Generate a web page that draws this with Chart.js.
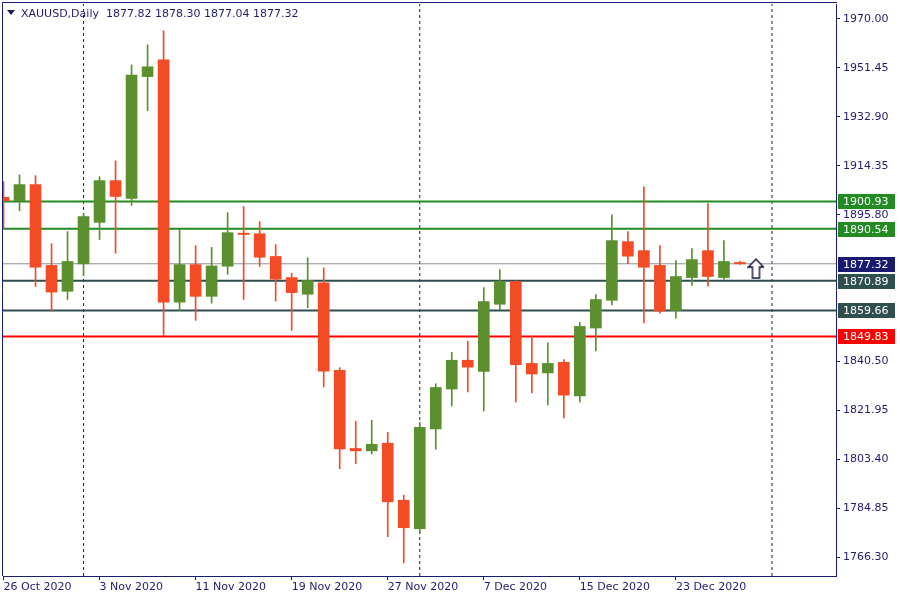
<!DOCTYPE html>
<html>
<head>
<meta charset="utf-8">
<script src="https://cdn.jsdelivr.net/npm/chart.js@4.4.1/dist/chart.umd.min.js"></script>
<style>
  html, body { margin: 0; padding: 0; background: #fff; }
  #wrap { position: relative; width: 900px; height: 600px; }
  #tri { position: absolute; left: 7px; top: 10px; width: 0; height: 0;
         border-left: 4px solid transparent; border-right: 4px solid transparent; border-top: 5px solid #1c1c5a; }
  #title { position: absolute; left: 21px; top: 7px; font: 11px "DejaVu Sans", sans-serif; line-height: 13px;
           color: #231c6b; white-space: pre; }
</style>
</head>
<body>
<div id="wrap">
  <canvas id="chart" width="900" height="600"></canvas>
  <div id="tri"></div>
  <div id="title">XAUUSD,Daily  1877.82 1878.30 1877.04 1877.32</div>
</div>
<script>
// daily candles, 26 Oct 2020 .. 30 Dec 2020 (bar index = trading day)
const opens  = [1902.5, 1901.2, 1907.3, 1876.7, 1866.9, 1877.3, 1893.0, 1908.8, 1902.1, 1948.2,
                1954.5, 1862.8, 1877.0, 1865.0, 1876.4, 1888.9, 1888.7, 1880.1, 1872.1, 1865.8,
                1870.1, 1837.0, 1807.4, 1806.5, 1809.4, 1787.8, 1777.0, 1814.8, 1829.9, 1840.8,
                1836.6, 1862.0, 1870.6, 1839.6, 1836.0, 1840.0, 1827.3, 1853.0, 1863.5, 1885.7,
                1882.3, 1876.7, 1859.6, 1872.1, 1882.3, 1872.1, 1877.82];
const highs  = [1908.4, 1911.0, 1910.7, 1884.9, 1889.5, 1896.3, 1910.3, 1916.3, 1952.6, 1960.2,
                1965.5, 1890.5, 1884.2, 1883.5, 1896.7, 1899.0, 1893.3, 1884.6, 1873.7, 1879.6,
                1875.8, 1838.0, 1817.7, 1818.1, 1813.5, 1789.7, 1817.2, 1831.9, 1843.8, 1848.0,
                1868.3, 1875.1, 1870.9, 1849.9, 1847.4, 1841.1, 1855.1, 1865.7, 1895.9, 1889.5,
                1906.5, 1884.2, 1878.5, 1883.1, 1900.1, 1886.1, 1878.30];
const lows   = [1890.5, 1897.4, 1868.7, 1859.4, 1863.8, 1872.9, 1886.5, 1881.3, 1899.4, 1935.3,
                1850.2, 1859.6, 1855.9, 1862.4, 1873.3, 1863.8, 1876.3, 1863.2, 1852.1, 1860.7,
                1830.7, 1799.7, 1801.6, 1805.3, 1774.0, 1764.1, 1775.5, 1807.1, 1823.5, 1828.8,
                1821.6, 1859.9, 1825.0, 1828.4, 1823.9, 1819.0, 1825.0, 1844.3, 1861.7, 1877.4,
                1854.9, 1858.6, 1856.7, 1869.1, 1868.8, 1871.4, 1877.04];
const closes = [1901.2, 1907.3, 1876.0, 1866.6, 1878.2, 1895.2, 1908.8, 1902.8, 1948.8, 1951.9,
                1862.8, 1877.0, 1865.0, 1876.5, 1889.1, 1888.4, 1879.8, 1871.5, 1866.4, 1871.0,
                1836.7, 1807.2, 1806.5, 1809.0, 1787.2, 1777.4, 1815.4, 1830.5, 1840.8, 1838.2,
                1863.0, 1870.6, 1839.1, 1835.6, 1839.6, 1827.6, 1853.6, 1863.8, 1886.1, 1880.2,
                1876.0, 1859.4, 1872.5, 1878.9, 1872.5, 1878.2, 1877.32];

const tickIndex  = [0, 6, 12, 18, 24, 30, 36, 42];
const tickLabels = ['26 Oct 2020', '3 Nov 2020', '11 Nov 2020', '19 Nov 2020',
                    '27 Nov 2020', '7 Dec 2020', '15 Dec 2020', '23 Dec 2020'];
const priceTicks = [1970.00, 1951.45, 1932.90, 1914.35, 1895.80, 1840.50, 1821.95, 1803.40, 1784.85, 1766.30];

const levels     = [1900.93, 1890.54, 1877.32, 1870.89, 1859.66, 1849.83];
const separators = [5, 26, 48];          // month starts
const arrowAt    = {x: 47, y: 1875.5};

// styles
const UP = '#5b8f2f', DOWN = '#f24b26', AXIS = '#1c1c72', TXT = '#231c6b';
const levelColors = ['#228b22', '#228b22', '#8a9096', '#2f4f4f', '#2f4f4f', '#ff0000'];
const levelWidths = [2, 2, 1, 2, 2, 2];
const tagColors   = ['#228b22', '#228b22', '#191970', '#2f4f4f', '#2f4f4f', '#ff0000'];

const X_MIN = -0.03125, X_MAX = 52;
const Y_MIN = 1759.12, Y_MAX = 1975.67;

const candleColor = opens.map((o, i) => closes[i] >= o ? UP : DOWN);

const wicks  = highs.map((h, i) => ({x: i, y: [lows[i], h]}));
const bodies = opens.map((o, i) => ({x: i, y: [Math.min(o, closes[i]), Math.max(o, closes[i])]}));

function makeArrow() {
  const c = document.createElement('canvas');
  c.width = 17; c.height = 21;
  const g = c.getContext('2d');
  g.beginPath();
  g.moveTo(8.5, 1); g.lineTo(16, 9); g.lineTo(12, 9); g.lineTo(12, 20);
  g.lineTo(5, 20); g.lineTo(5, 9); g.lineTo(1, 9); g.closePath();
  g.fillStyle = '#fff'; g.fill();
  g.strokeStyle = '#10103a'; g.lineWidth = 1.4; g.stroke();
  return c;
}

const lineSets = levels.map((v, i) => ({
  type: 'line',
  data: [{x: X_MIN, y: v}, {x: X_MAX, y: v}],
  borderColor: levelColors[i],
  borderWidth: levelWidths[i],
  pointRadius: 0,
  order: 5
}));

const sepSets = separators.map(s => ({
  type: 'line',
  data: [{x: s, y: Y_MIN}, {x: s, y: Y_MAX}],
  borderColor: '#1c1c5a',
  borderWidth: 1,
  borderDash: [3, 3],
  pointRadius: 0,
  order: 6
}));

// frame on top/left, and coloured price tags on the right axis
const frameAndTags = {
  id: 'frameAndTags',
  afterDraw(chart) {
    const {ctx, chartArea: a} = chart;
    const y = chart.scales.y;
    ctx.save();
    ctx.strokeStyle = AXIS;
    ctx.lineWidth = 1;
    ctx.beginPath();
    ctx.moveTo(a.left - 0.5, a.bottom);
    ctx.lineTo(a.left - 0.5, a.top - 1.5);
    ctx.lineTo(a.right + 1, a.top - 1.5);
    ctx.stroke();

    ctx.font = '11px "DejaVu Sans", sans-serif';
    ctx.textBaseline = 'middle';
    ctx.textAlign = 'left';
    levels.forEach((v, i) => {
      const py = Math.round(y.getPixelForValue(v));
      ctx.fillStyle = tagColors[i];
      ctx.fillRect(838, py - 7, 57, 15);
      ctx.fillStyle = '#fff';
      ctx.fillText(v.toFixed(2), 843, py + 1);
    });
    ctx.restore();
  }
};

new Chart(document.getElementById('chart'), {
  type: 'bar',
  data: {
    datasets: [
      {
        data: bodies,
        backgroundColor: candleColor,
        barThickness: 11,
        minBarLength: 1,
        grouped: false,
        borderWidth: 0,
        order: 0
      },
      {
        data: wicks,
        backgroundColor: candleColor,
        barThickness: 1,
        grouped: false,
        borderWidth: 0,
        order: 1
      },
      {
        type: 'scatter',
        data: [arrowAt],
        pointStyle: makeArrow(),
        order: -1
      },
      ...lineSets,
      ...sepSets
    ]
  },
  options: {
    responsive: false,
    animation: false,
    events: [],
    layout: { autoPadding: false, padding: { left: 3, top: 4, right: 0, bottom: 0 } },
    plugins: { legend: { display: false }, tooltip: { enabled: false } },
    scales: {
      x: {
        type: 'linear',
        min: X_MIN,
        max: X_MAX,
        offset: false,
        afterFit: s => { s.height = 24; s.paddingLeft = 0; s.paddingRight = 0; },
        afterBuildTicks: s => { s.ticks = tickIndex.map(v => ({value: v})); },
        grid: { drawOnChartArea: false, tickLength: 4, color: AXIS, offset: false },
        border: { color: AXIS },
        ticks: {
          align: 'start',
          autoSkip: false,
          maxRotation: 0,
          padding: 1,
          color: TXT,
          font: { family: 'DejaVu Sans', size: 11 },
          callback: (v, i) => tickLabels[i]
        }
      },
      y: {
        position: 'right',
        min: Y_MIN,
        max: Y_MAX,
        afterFit: s => { s.width = 64; s.paddingTop = 0; s.paddingBottom = 0; },
        afterBuildTicks: s => { s.ticks = priceTicks.map(v => ({value: v})); },
        grid: { drawOnChartArea: false, tickLength: 4, color: AXIS },
        border: { color: AXIS },
        ticks: {
          padding: 3,
          color: TXT,
          font: { family: 'DejaVu Sans', size: 11 },
          callback: v => v.toFixed(2)
        }
      }
    }
  },
  plugins: [frameAndTags]
});
</script>
</body>
</html>
